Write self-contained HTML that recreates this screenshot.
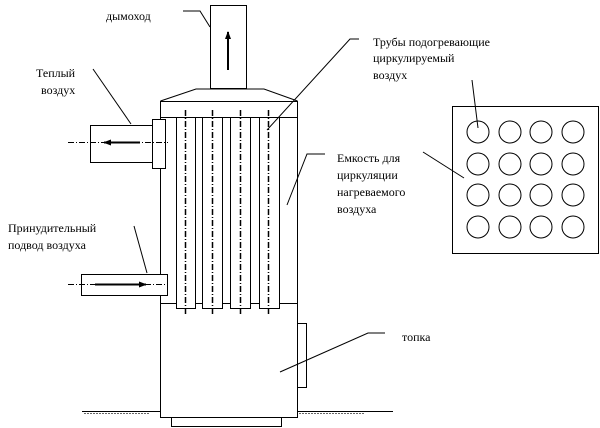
<!DOCTYPE html>
<html><head><meta charset="utf-8"><style>
html,body{margin:0;padding:0;background:#fff;}
svg{display:block;}
text{font-family:"Liberation Serif","DejaVu Serif",serif;font-size:12px;fill:#000;}
</style></head><body>
<svg width="600" height="428" viewBox="0 0 600 428" xmlns="http://www.w3.org/2000/svg">
<defs><marker id="ah" markerWidth="8" markerHeight="6" refX="7" refY="3" orient="auto" markerUnits="userSpaceOnUse"><path d="M0,0 L8,3 L0,6 z" fill="#000"/></marker></defs>
<g stroke="#000" stroke-width="1" fill="none">
<!-- chimney -->
<rect x="210.5" y="5.5" width="36" height="83"/>
<line x1="228" y1="70" x2="228" y2="32" stroke-width="2" marker-end="url(#ah)"/>
<!-- hood -->
<polyline points="160.5,101 196,89 264,89 297.5,101"/>
<!-- body -->
<rect x="160.5" y="101.5" width="137" height="316"/>
<line x1="160" y1="117.5" x2="297" y2="117.5"/>
<line x1="160" y1="303.5" x2="297" y2="303.5"/>
<!-- tubes -->
<rect x="176.5" y="117.5" width="19" height="191" fill="#fff"/>
<rect x="202.5" y="117.5" width="20" height="191" fill="#fff"/>
<rect x="230.5" y="117.5" width="20" height="191" fill="#fff"/>
<rect x="259.5" y="117.5" width="20" height="191" fill="#fff"/>
<g stroke-width="1.5" stroke-dasharray="6,2,1,2">
<line x1="185.5" y1="110" x2="185.5" y2="316"/>
<line x1="212.5" y1="110" x2="212.5" y2="316"/>
<line x1="240.5" y1="110" x2="240.5" y2="316"/>
<line x1="268.5" y1="110" x2="268.5" y2="316"/>
</g>
<!-- outlet -->
<rect x="152.5" y="119.5" width="13" height="49" fill="#fff"/>
<rect x="90.5" y="125.5" width="62" height="37" fill="#fff"/>
<line x1="68" y1="142.5" x2="168" y2="142.5" stroke-dasharray="6,2,1,2"/>
<line x1="140" y1="142.5" x2="104" y2="142.5" stroke-width="2" marker-end="url(#ah)"/>
<!-- inlet -->
<rect x="81.5" y="274.5" width="86" height="21" fill="#fff"/>
<line x1="68" y1="284.5" x2="168" y2="284.5" stroke-dasharray="6,2,1,2"/>
<line x1="95" y1="284.5" x2="146" y2="284.5" stroke-width="2" marker-end="url(#ah)"/>
<!-- door, base -->
<rect x="297.5" y="323.5" width="9" height="64"/>
<rect x="171.5" y="417.5" width="110" height="9"/>
<!-- ground -->
<line x1="82" y1="411.5" x2="160" y2="411.5"/>
<line x1="297" y1="411.5" x2="393" y2="411.5"/>
<line x1="84" y1="413.5" x2="150" y2="413.5" stroke-dasharray="2,1" stroke="#666"/>
<line x1="299" y1="413.5" x2="365" y2="413.5" stroke-dasharray="2,1" stroke="#666"/>
<!-- right panel -->
<rect x="452.5" y="106.5" width="146" height="147"/>
<g>
<circle cx="478" cy="132" r="11"/><circle cx="510" cy="132" r="11"/><circle cx="541" cy="132" r="11"/><circle cx="573" cy="132" r="11"/>
<circle cx="478" cy="164" r="11"/><circle cx="510" cy="164" r="11"/><circle cx="541" cy="164" r="11"/><circle cx="573" cy="164" r="11"/>
<circle cx="478" cy="195" r="11"/><circle cx="510" cy="195" r="11"/><circle cx="541" cy="195" r="11"/><circle cx="573" cy="195" r="11"/>
<circle cx="478" cy="227" r="11"/><circle cx="510" cy="227" r="11"/><circle cx="541" cy="227" r="11"/><circle cx="573" cy="227" r="11"/>
</g>
<!-- leaders -->
<polyline points="183,11 200,11 210,27"/>
<polyline points="359,39 350,39 267,130"/>
<line x1="472" y1="80" x2="478" y2="128"/>
<polyline points="325,154 307,154 287,205"/>
<line x1="423" y1="152" x2="464" y2="178"/>
<line x1="93" y1="69" x2="131" y2="124"/>
<line x1="134" y1="226" x2="147" y2="273"/>
<polyline points="385,333 368,333 280,372"/>
</g>
<text x="106" y="20">дымоход</text>
<text x="373" y="46">Трубы подогревающие</text>
<text x="373" y="62">циркулируемый</text>
<text x="373" y="79">воздух</text>
<text x="36" y="77">Теплый</text>
<text x="41" y="94">воздух</text>
<text x="337" y="162">Емкость для</text>
<text x="337" y="179">циркуляции</text>
<text x="337" y="196">нагреваемого</text>
<text x="337" y="213">воздуха</text>
<text x="8" y="232">Принудительный</text>
<text x="8" y="249">подвод воздуха</text>
<text x="402" y="341">топка</text>
</svg>
</body></html>
